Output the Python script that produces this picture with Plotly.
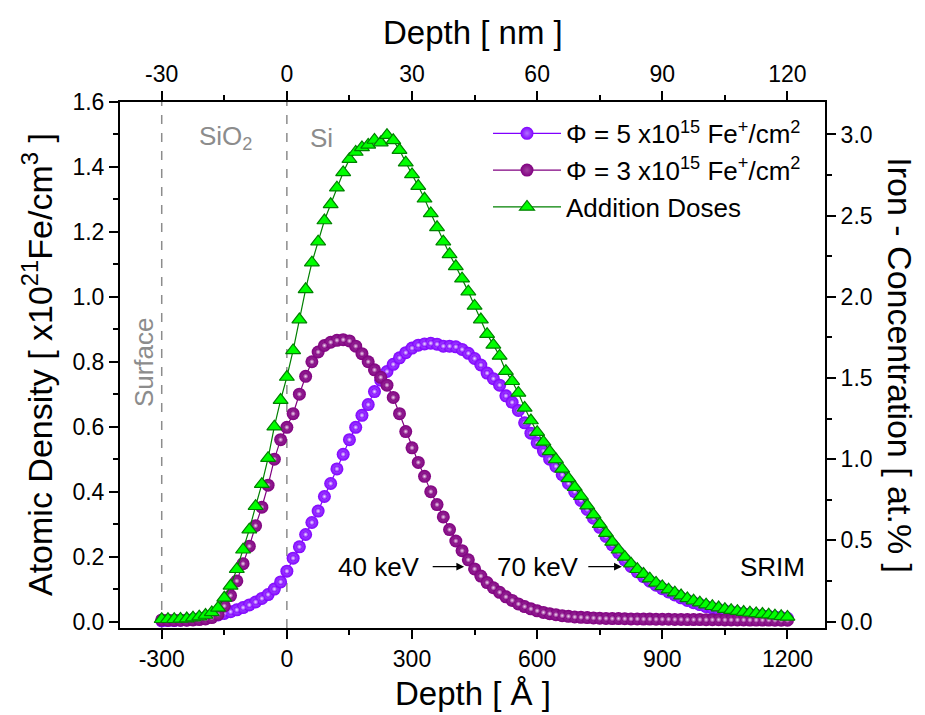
import plotly.graph_objects as go

# ---------------- data ----------------
depth = list(range(-300, 1201, 15))  # Å, SRIM bins

dose5 = [0.002, 0.003, 0.003, 0.004, 0.005, 0.007, 0.009, 0.012, 0.016, 0.020,
         0.025, 0.030, 0.036, 0.043, 0.051, 0.060, 0.071, 0.083, 0.100, 0.122,
         0.155, 0.195, 0.230, 0.268, 0.305, 0.340, 0.385, 0.425, 0.470, 0.515,
         0.560, 0.598, 0.635, 0.668, 0.708, 0.743, 0.770, 0.792, 0.812, 0.828,
         0.842, 0.851, 0.855, 0.857, 0.854, 0.848, 0.848, 0.846, 0.838, 0.826,
         0.810, 0.790, 0.765, 0.748, 0.728, 0.695, 0.675, 0.650, 0.612, 0.580,
         0.550, 0.525, 0.500, 0.478, 0.452, 0.425, 0.400, 0.373, 0.345, 0.318,
         0.290, 0.262, 0.236, 0.212, 0.190, 0.170, 0.153, 0.138, 0.124, 0.112,
         0.101, 0.091, 0.082, 0.073, 0.065, 0.058, 0.052, 0.046, 0.041, 0.037,
         0.033, 0.030, 0.027, 0.024, 0.022, 0.020, 0.018, 0.016, 0.014, 0.012,
         0.010]

dose3 = [0.005, 0.004, 0.004, 0.004, 0.004, 0.005, 0.006, 0.008, 0.012, 0.022,
         0.048, 0.080, 0.125, 0.178, 0.232, 0.295, 0.352, 0.420, 0.500, 0.560,
         0.598, 0.640, 0.700, 0.755, 0.800, 0.830, 0.850, 0.860, 0.866, 0.868,
         0.864, 0.848, 0.825, 0.800, 0.775, 0.752, 0.728, 0.690, 0.640, 0.585,
         0.535, 0.490, 0.447, 0.400, 0.360, 0.322, 0.283, 0.248, 0.218, 0.190,
         0.162, 0.140, 0.120, 0.104, 0.090, 0.076, 0.065, 0.054, 0.046, 0.039,
         0.033, 0.028, 0.024, 0.021, 0.018, 0.016, 0.014, 0.013, 0.012, 0.011,
         0.010, 0.0095, 0.009, 0.009, 0.0085, 0.008, 0.008, 0.0075, 0.0075, 0.007,
         0.007, 0.007, 0.0065, 0.0065, 0.006, 0.006, 0.006, 0.0055, 0.0055, 0.0055,
         0.005, 0.005, 0.005, 0.005, 0.0045, 0.0045, 0.0045, 0.0045, 0.004, 0.004,
         0.004]

addition = [0.007, 0.007, 0.007, 0.008, 0.009, 0.012, 0.015, 0.020, 0.028, 0.042,
            0.073, 0.110, 0.161, 0.221, 0.283, 0.355, 0.423, 0.503, 0.600, 0.682,
            0.753, 0.835, 0.930, 1.023, 1.105, 1.170, 1.235, 1.285, 1.336, 1.383,
            1.424, 1.446, 1.460, 1.468, 1.483, 1.475, 1.498, 1.482, 1.452, 1.413,
            1.377, 1.341, 1.302, 1.257, 1.214, 1.170, 1.131, 1.094, 1.056, 1.016,
            0.972, 0.930, 0.885, 0.852, 0.818, 0.771, 0.740, 0.704, 0.658, 0.619,
            0.583, 0.553, 0.524, 0.499, 0.470, 0.441, 0.414, 0.386, 0.357, 0.329,
            0.300, 0.272, 0.245, 0.221, 0.199, 0.178, 0.161, 0.146, 0.132, 0.119,
            0.108, 0.098, 0.089, 0.080, 0.071, 0.064, 0.058, 0.052, 0.047, 0.043,
            0.038, 0.035, 0.032, 0.029, 0.027, 0.025, 0.023, 0.021, 0.018, 0.016,
            0.014]

x_ticks = [-300, 0, 300, 600, 900, 1200]
x_ticklabels = ["-300", "0", "300", "600", "900", "1200"]
x_minor = [-150, 150, 450, 750, 1050]
top_ticklabels = ["-30", "0", "30", "60", "90", "120"]
y_ticks = [0.0, 0.2, 0.4, 0.6, 0.8, 1.0, 1.2, 1.4, 1.6]
y_ticklabels = ["0.0", "0.2", "0.4", "0.6", "0.8", "1.0", "1.2", "1.4", "1.6"]
y_minor = [0.1, 0.3, 0.5, 0.7, 0.9, 1.1, 1.3, 1.5]
y2_ticks = [0.0, 0.5, 1.0, 1.5, 2.0, 2.5, 3.0]
y2_ticklabels = ["0.0", "0.5", "1.0", "1.5", "2.0", "2.5", "3.0"]
y2_minor = [0.25, 0.75, 1.25, 1.75, 2.25, 2.75]
interfaces = [-300, 0]

FONT = "Liberation Sans, Arial, sans-serif"
TICKF = dict(family=FONT, size=23, color="black")
ANNF = 26
GRAY = "#8c8c8c"
C5, C5_MID, C5_HI = "#8000ff", "#b070ff", "#f0e4ff"
C3, C3_MID, C3_HI = "#800080", "#a040a0", "#f2dcf2"

fig = go.Figure()


def sphere_series(y, color, mid, hi, name):
    fig.add_trace(go.Scatter(
        x=depth, y=y, mode="lines+markers", name=name,
        line=dict(color=color, width=1.2),
        marker=dict(symbol="circle", size=13, color=color,
                    gradient=dict(type="radial", color=mid),
                    line=dict(width=0)),
    ))
    # small specular highlight on each sphere
    fig.add_trace(go.Scatter(
        x=depth, y=y, mode="markers", showlegend=False, hoverinfo="skip",
        marker=dict(symbol="circle", size=6, color=color,
                    gradient=dict(type="radial", color=hi), line=dict(width=0)),
    ))


sphere_series(dose5, C5, C5_MID, C5_HI, "Φ = 5 x10<sup>15</sup> Fe<sup>+</sup>/cm<sup>2</sup>")
sphere_series(dose3, C3, C3_MID, C3_HI, "Φ = 3 x10<sup>15</sup> Fe<sup>+</sup>/cm<sup>2</sup>")

fig.add_trace(go.Scatter(
    x=depth, y=addition, mode="lines+markers",
    name="Addition Doses",
    line=dict(color="#008000", width=1.2),
    marker=dict(symbol="triangle-up", size=13, color="#00ff00",
                line=dict(color="#008000", width=1.2)),
))
# invisible anchor trace for the secondary (top / right) axes
fig.add_trace(go.Scatter(
    x=[x_ticks[0]], y=[0], xaxis="x2", yaxis="y2", mode="markers",
    marker=dict(opacity=0), showlegend=False, hoverinfo="skip",
))

axis_common = dict(showline=True, linecolor="black", linewidth=2, showgrid=False,
                   zeroline=False, ticks="outside", ticklen=9, tickwidth=1.5,
                   tickcolor="black", tickfont=TICKF, automargin=False)


def minor(vals):
    return dict(tickvals=vals, ticks="outside", ticklen=5, tickwidth=1.5,
                tickcolor="black")


# the page body adds an 8 px offset, so the figure is 8 px smaller than the window
fig.update_layout(
    width=917, height=707,
    margin=dict(l=112, r=100, t=94, b=87),
    paper_bgcolor="white", plot_bgcolor="white",
    font=dict(family=FONT, color="black"),
    xaxis=dict(range=[-400, 1290], tickmode="array", tickvals=x_ticks,
               ticktext=x_ticklabels, minor=minor(x_minor), **axis_common),
    xaxis2=dict(range=[-400, 1290], overlaying="x", side="top", anchor="y",
                tickmode="array", tickvals=x_ticks, ticktext=top_ticklabels,
                minor=minor(x_minor), **axis_common),
    yaxis=dict(range=[-0.02, 1.6], tickmode="array", tickvals=y_ticks,
               ticktext=y_ticklabels, minor=minor(y_minor), **axis_common),
    yaxis2=dict(range=[-0.04, 3.2], overlaying="y", side="right", anchor="x",
                tickmode="array", tickvals=y2_ticks, ticktext=y2_ticklabels,
                minor=minor(y2_minor), **axis_common),
    legend=dict(x=0.522, y=0.985, xanchor="left", yanchor="top",
                bgcolor="rgba(0,0,0,0)", font=dict(family=FONT, size=26),
                itemwidth=68, tracegroupgap=0),
    showlegend=True,
)

for xv in interfaces:
    fig.add_shape(type="line", xref="x", yref="paper", x0=xv, x1=xv, y0=0, y1=1,
                  line=dict(color=GRAY, width=1.5, dash="dash"), layer="below")

ann = [
    dict(x=-147, y=1.49, text="SiO<sub>2</sub>", font=dict(size=ANNF, color=GRAY)),
    dict(x=82, y=1.49, text="Si", font=dict(size=ANNF, color=GRAY)),
    dict(x=-344, y=0.80, text="Surface", textangle=-90, font=dict(size=ANNF, color=GRAY)),
    dict(x=222, y=0.169, text="40 keV", font=dict(size=ANNF, color="black")),
    dict(x=602, y=0.169, text="70 keV", font=dict(size=ANNF, color="black")),
    dict(x=1163, y=0.169, text="SRIM", font=dict(size=ANNF, color="black")),
]
for a in ann:
    fig.add_annotation(xref="x", yref="y", showarrow=False, **a)

for tail, head in [(346, 425), (719, 803)]:
    fig.add_annotation(xref="x", yref="y", x=head, y=0.169, axref="x", ayref="y",
                       ax=tail, ay=0.169, text="", showarrow=True,
                       arrowhead=2, arrowsize=1.3, arrowwidth=1.2, arrowcolor="black")

# axis titles
titles = [
    dict(x=0.5, y=-0.1236, text="Depth [ Å ]", textangle=0, size=33),
    dict(x=0.5, y=1.133, text="Depth [ nm ]", textangle=0, size=33),
    dict(x=-0.1177, y=0.5, text="Atomic Density [ x10<sup>21</sup>Fe/cm<sup>3</sup> ]",
         textangle=-90, size=34),
    dict(x=1.106, y=0.5, text="Iron - Concentration [ at.% ]", textangle=90, size=34),
]
for t in titles:
    size = t.pop("size")
    fig.add_annotation(xref="paper", yref="paper", xanchor="center", yanchor="middle",
                       showarrow=False, font=dict(family=FONT, size=size, color="black"),
                       **t)

fig.write_html("out.html")
